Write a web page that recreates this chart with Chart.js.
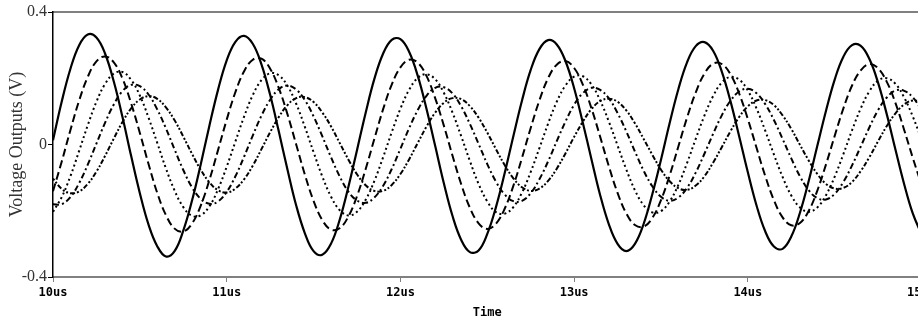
<!DOCTYPE html>
<html>
<head>
<meta charset="utf-8">
<script src="https://cdn.jsdelivr.net/npm/chart.js@4"></script>
<style>
  html, body { margin: 0; padding: 0; background: #fff; overflow: hidden; }
  #wrap { width: 940px; height: 320px; }
</style>
</head>
<body>
<div id="wrap"><canvas id="myChart" width="940" height="320"></canvas></div>
<script>
// sample times (us)
const times = [
  10.00, 10.05, 10.10, 10.15, 10.20, 10.25, 10.30, 10.35, 10.40, 10.45,
  10.50, 10.55, 10.60, 10.65, 10.70, 10.75, 10.80, 10.85, 10.90, 10.95,
  11.00, 11.05, 11.10, 11.15, 11.20, 11.25, 11.30, 11.35, 11.40, 11.45,
  11.50, 11.55, 11.60, 11.65, 11.70, 11.75, 11.80, 11.85, 11.90, 11.95,
  12.00, 12.05, 12.10, 12.15, 12.20, 12.25, 12.30, 12.35, 12.40, 12.45,
  12.50, 12.55, 12.60, 12.65, 12.70, 12.75, 12.80, 12.85, 12.90, 12.95,
  13.00, 13.05, 13.10, 13.15, 13.20, 13.25, 13.30, 13.35, 13.40, 13.45,
  13.50, 13.55, 13.60, 13.65, 13.70, 13.75, 13.80, 13.85, 13.90, 13.95,
  14.00, 14.05, 14.10, 14.15, 14.20, 14.25, 14.30, 14.35, 14.40, 14.45,
  14.50, 14.55, 14.60, 14.65, 14.70, 14.75, 14.80, 14.85, 14.90, 14.95,
  15.00
];

// node voltages (V)
const v1 = [
  0.013, 0.129, 0.228, 0.299, 0.332, 0.323, 0.274, 0.190, 0.083, -0.035,
  -0.147, -0.242, -0.307, -0.338, -0.322, -0.260, -0.170, -0.061, 0.056, 0.165,
  0.254, 0.310, 0.328, 0.304, 0.242, 0.150, 0.039, -0.076, -0.184, -0.268,
  -0.322, -0.333, -0.300, -0.228, -0.129, -0.017, 0.096, 0.198, 0.274, 0.316,
  0.318, 0.280, 0.207, 0.108, -0.004, -0.117, -0.216, -0.288, -0.325, -0.320,
  -0.270, -0.189, -0.087, 0.025, 0.133, 0.225, 0.288, 0.315, 0.302, 0.252,
  0.170, 0.066, -0.045, -0.153, -0.241, -0.300, -0.322, -0.300, -0.240, -0.150,
  -0.046, 0.065, 0.167, 0.248, 0.297, 0.309, 0.283, 0.220, 0.131, 0.025,
  -0.084, -0.184, -0.262, -0.308, -0.315, -0.278, -0.206, -0.111, -0.004, 0.102,
  0.196, 0.265, 0.300, 0.298, 0.258, 0.186, 0.091, -0.016, -0.120, -0.209,
  -0.271
];
const v2 = [
  -0.141, -0.052, 0.043, 0.132, 0.204, 0.251, 0.266, 0.248, 0.199, 0.124,
  0.035, -0.059, -0.146, -0.213, -0.254, -0.263, -0.239, -0.185, -0.108, -0.017,
  0.075, 0.158, 0.221, 0.256, 0.259, 0.229, 0.170, 0.091, 0.000, -0.091,
  -0.170, -0.228, -0.257, -0.253, -0.218, -0.156, -0.074, 0.017, 0.106, 0.181,
  0.233, 0.256, 0.247, 0.207, 0.140, 0.057, -0.034, -0.120, -0.191, -0.238,
  -0.255, -0.239, -0.194, -0.125, -0.040, 0.050, 0.133, 0.200, 0.241, 0.252,
  0.231, 0.181, 0.109, 0.023, -0.066, -0.146, -0.208, -0.243, -0.248, -0.222,
  -0.168, -0.093, -0.006, 0.081, 0.157, 0.214, 0.244, 0.243, 0.212, 0.154,
  0.077, -0.010, -0.095, -0.168, -0.220, -0.244, -0.237, -0.201, -0.139, -0.060,
  0.026, 0.109, 0.178, 0.224, 0.243, 0.230, 0.189, 0.125, 0.044, -0.041,
  -0.122
];
const v3 = [
  -0.203, -0.159, -0.096, -0.020, 0.058, 0.129, 0.183, 0.214, 0.219, 0.195,
  0.148, 0.081, 0.005, -0.072, -0.139, -0.189, -0.215, -0.214, -0.187, -0.135,
  -0.067, 0.009, 0.084, 0.149, 0.194, 0.215, 0.209, 0.177, 0.123, 0.053,
  -0.023, -0.096, -0.157, -0.198, -0.214, -0.203, -0.167, -0.110, -0.039, 0.037,
  0.108, 0.165, 0.201, 0.212, 0.197, 0.156, 0.096, 0.025, -0.050, -0.119,
  -0.172, -0.204, -0.209, -0.189, -0.145, -0.083, -0.011, 0.063, 0.129, 0.178,
  0.205, 0.206, 0.181, 0.133, 0.069, -0.003, -0.075, -0.138, -0.183, -0.205,
  -0.201, -0.172, -0.122, -0.056, 0.017, 0.087, 0.146, 0.187, 0.204, 0.196,
  0.163, 0.109, 0.042, -0.030, -0.098, -0.154, -0.190, -0.203, -0.190, -0.153,
  -0.097, -0.029, 0.043, 0.109, 0.161, 0.193, 0.200, 0.183, 0.142, 0.084,
  0.015
];
const v4 = [
  -0.180, -0.180, -0.159, -0.117, -0.061, 0.003, 0.066, 0.121, 0.161, 0.180,
  0.176, 0.151, 0.106, 0.049, -0.015, -0.077, -0.129, -0.164, -0.179, -0.172,
  -0.143, -0.096, -0.037, 0.027, 0.087, 0.135, 0.167, 0.178, 0.166, 0.134,
  0.085, 0.025, -0.038, -0.096, -0.142, -0.169, -0.176, -0.160, -0.125, -0.074,
  -0.013, 0.049, 0.104, 0.147, 0.171, 0.173, 0.154, 0.115, 0.062, 0.002,
  -0.059, -0.112, -0.151, -0.171, -0.170, -0.147, -0.105, -0.051, 0.010, 0.069,
  0.120, 0.155, 0.171, 0.165, 0.139, 0.095, 0.040, -0.021, -0.079, -0.126,
  -0.158, -0.170, -0.160, -0.131, -0.085, -0.028, 0.032, 0.088, 0.132, 0.160,
  0.168, 0.155, 0.122, 0.074, 0.017, -0.042, -0.096, -0.138, -0.162, -0.166,
  -0.149, -0.113, -0.063, -0.006, 0.052, 0.104, 0.142, 0.163, 0.162, 0.142,
  0.104
];
const v5 = [
  -0.103, -0.134, -0.147, -0.142, -0.119, -0.082, -0.034, 0.018, 0.068, 0.109,
  0.136, 0.146, 0.138, 0.112, 0.073, 0.024, -0.028, -0.076, -0.114, -0.138,
  -0.145, -0.133, -0.105, -0.064, -0.014, 0.037, 0.083, 0.119, 0.140, 0.143,
  0.128, 0.097, 0.055, 0.005, -0.045, -0.090, -0.123, -0.140, -0.140, -0.122,
  -0.089, -0.045, 0.005, 0.054, 0.096, 0.126, 0.140, 0.137, 0.116, 0.081,
  0.036, -0.014, -0.062, -0.102, -0.129, -0.140, -0.133, -0.110, -0.073, -0.027,
  0.023, 0.069, 0.107, 0.131, 0.138, 0.129, 0.103, 0.064, 0.017, -0.031,
  -0.076, -0.111, -0.132, -0.137, -0.124, -0.096, -0.055, -0.008, 0.040, 0.083,
  0.115, 0.133, 0.134, 0.119, 0.088, 0.047, -0.001, -0.048, -0.089, -0.119,
  -0.133, -0.131, -0.113, -0.080, -0.038, 0.010, 0.056, 0.094, 0.121, 0.133,
  0.128
];

const xTicks = [10, 11, 12, 13, 14, 15];
const yTicks = [-0.4, 0, 0.4];

const series = [v1, v2, v3, v4, v5];
const dashes = [[], [8, 4], [2, 3], [6, 3, 2, 3], [2, 2, 2, 2, 5, 2]];
const widths = [2.2, 2, 2, 2, 2];

const datasets = [];
for (let i = 0; i < series.length; i++) {
  datasets.push({
    data: times.map((t, j) => ({ x: t, y: series[i][j] })),
    borderColor: "#000",
    borderWidth: widths[i],
    borderDash: dashes[i],
    pointRadius: 0,
    tension: 0.4,
    fill: false
  });
}

const monoFont = { family: "'DejaVu Sans Mono', monospace", weight: "bold", size: 12 };
const serifFont = { family: "'Liberation Serif', 'DejaVu Serif', serif", size: 16 };

new Chart(document.getElementById("myChart"), {
  type: "line",
  data: { datasets: datasets },
  options: {
    responsive: false,
    animation: false,
    devicePixelRatio: 1,
    layout: { padding: { top: 12, right: 17, left: 0, bottom: 0 } },
    plugins: { legend: { display: false }, tooltip: { enabled: false } },
    scales: {
      x: {
        type: "linear",
        position: "bottom",
        min: 10,
        max: 15,
        afterBuildTicks: s => { s.ticks = xTicks.map(v => ({ value: v })); },
        ticks: { callback: v => v + "us", font: monoFont, color: "#000", maxRotation: 0, padding: 4 },
        grid: { display: true, drawOnChartArea: false, tickLength: 5, color: "#808080", lineWidth: 1 },
        border: { color: "#808080", width: 2 },
        title: { display: true, text: "Time", font: monoFont, color: "#000", padding: { top: 4, bottom: 0 } },
        afterFit: s => { s.height = 43; }
      },
      xTop: {
        type: "linear",
        position: "top",
        min: 10,
        max: 15,
        ticks: { display: false },
        grid: { display: false, drawTicks: false },
        border: { color: "#808080", width: 2 },
        afterFit: s => { s.height = 0; }
      },
      y: {
        min: -0.4,
        max: 0.4,
        afterBuildTicks: s => { s.ticks = yTicks.map(v => ({ value: v })); },
        ticks: { callback: v => (v === 0 ? "0" : v.toFixed(1)), font: serifFont, color: "#333", padding: 1 },
        grid: { display: true, drawOnChartArea: false, tickLength: 5, color: "#000", lineWidth: 1 },
        border: { color: "#000", width: 1.5 },
        title: { display: true, text: "Voltage Outputs (V)", font: { family: serifFont.family, size: 18 }, color: "#333", padding: { top: 6, bottom: 0 } },
        afterFit: s => { s.width = 53; }
      }
    }
  }
});
</script>
</body>
</html>
